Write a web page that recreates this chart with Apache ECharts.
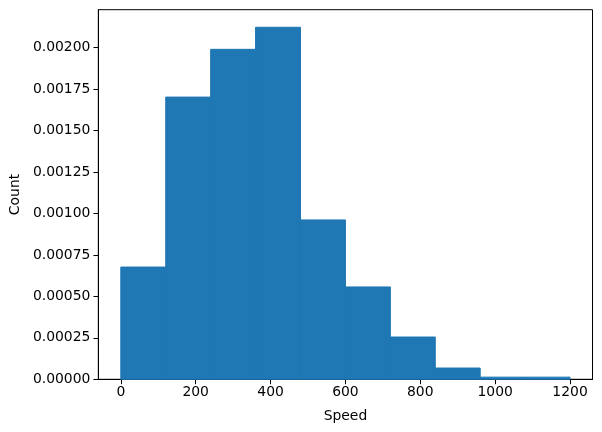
<!DOCTYPE html>
<html><head><meta charset="utf-8">
<script src="https://cdn.jsdelivr.net/npm/echarts@6/dist/echarts.min.js"></script>
<style>html,body{margin:0;padding:0;background:#fff}#c{width:602px;height:432px}</style>
</head><body><div id="c"></div>
<script>
const binStarts = [0, 120, 240, 360, 480, 600, 720, 840, 960, 1080];
const binWidth = 120;
const densities = [0.000677, 0.001702, 0.001990, 0.002123, 0.000961, 0.000557, 0.000255, 0.000068, 0.000013, 0.000013];
const xTicks = [0, 200, 400, 600, 800, 1000, 1200];
const yTicks = [0, 0.00025, 0.0005, 0.00075, 0.001, 0.00125, 0.0015, 0.00175, 0.002];

const data = binStarts.map((s, i) => [s, s + binWidth, densities[i]]);
const font = 'DejaVu Sans';
const chart = echarts.init(document.getElementById('c'), null, {renderer: 'canvas'});
chart.setOption({
  animation: false,
  grid: {left: 97, right: 9.5, top: 9.7, bottom: 52.7, show: true, borderColor: '#000', borderWidth: 1, containLabel: false},
  xAxis: {
    type: 'value', min: -60, max: 1260,
    name: 'Speed', nameLocation: 'middle', nameGap: 30,
    nameTextStyle: {fontFamily: font, fontSize: 13.9, color: '#000'},
    splitLine: {show: false},
    axisLine: {show: true, onZero: false, lineStyle: {color: '#000', width: 1}},
    axisTick: {show: true, length: 4.9, lineStyle: {color: '#000', width: 1}, customValues: xTicks},
    axisLabel: {fontFamily: font, fontSize: 13.9, color: '#000', margin: 6, customValues: xTicks, formatter: v => String(v)}
  },
  yAxis: {
    type: 'value', min: 0, max: 0.002229,
    name: 'Count', nameLocation: 'middle', nameGap: 67, nameRotate: 90,
    nameTextStyle: {fontFamily: font, fontSize: 13.9, color: '#000'},
    splitLine: {show: false},
    axisLine: {show: true, onZero: false, lineStyle: {color: '#000', width: 1}},
    axisTick: {show: true, length: 4.9, lineStyle: {color: '#000', width: 1}, customValues: yTicks},
    axisLabel: {fontFamily: font, fontSize: 13.9, color: '#000', margin: 8, customValues: yTicks, formatter: v => v.toFixed(5)}
  },
  series: [{
    type: 'custom',
    data: data,
    encode: {x: [0, 1], y: 2},
    renderItem: function (params, api) {
      const p0 = api.coord([api.value(0), 0]);
      const p1 = api.coord([api.value(1), api.value(2)]);
      return {
        type: 'rect',
        shape: {x: p0[0], y: p1[1], width: p1[0] - p0[0], height: p0[1] - p1[1]},
        style: {fill: '#1f77b4', stroke: '#1f77b4', lineWidth: 1}
      };
    }
  }]
});
</script></body></html>
